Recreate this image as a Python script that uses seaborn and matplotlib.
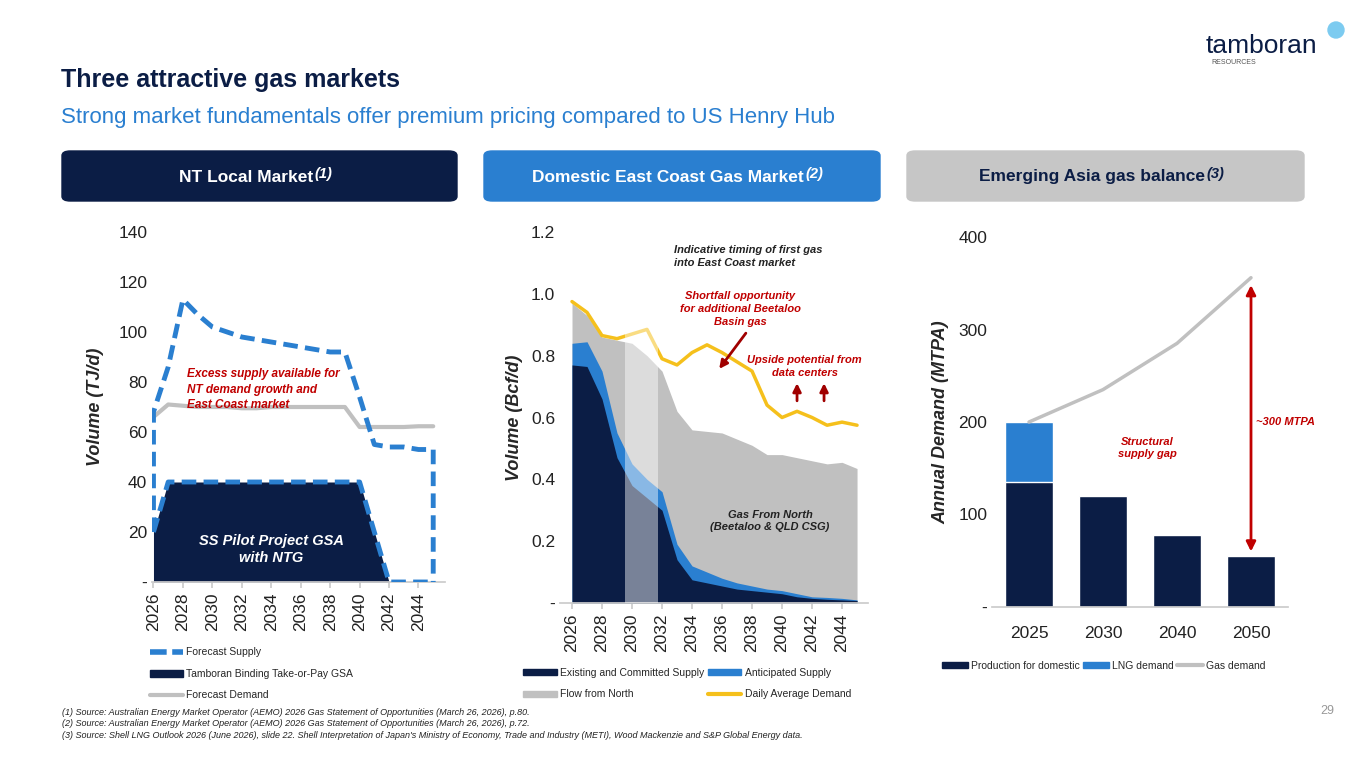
import matplotlib
matplotlib.use("Agg")

import matplotlib.pyplot as plt
import numpy as np
import pandas as pd
import seaborn as sns
from matplotlib.lines import Line2D
from matplotlib.patches import FancyBboxPatch, Patch, Ellipse

NAVY = "#0b1d45"
BLUE = "#2a7fd0"
GREY = "#c0c0c0"
YELLOW = "#f5c01c"
RED = "#c00000"

# NT local market (TJ/d)
nt_years = list(range(2026, 2046))
nt_supply = [68, 86, 113, 107, 102, 100, 98, 97, 96, 95, 94, 93, 92, 92, 74, 55, 54, 54, 53, 53]
nt_gsa = [20, 40, 40, 40, 40, 40, 40, 40, 40, 40, 40, 40, 40, 40, 40, 20, 0, 0, 0, 0]
nt_demand = [66, 71, 70.5, 70, 70, 70, 69.5, 69.5, 70, 70, 70, 70, 70, 70, 62, 62, 62, 62, 62.3, 62.3]

# Domestic east coast (Bcf/d)
ec_years = list(range(2026, 2046))
ec_existing = [.77, .765, .66, .47, .38, .34, .30, .14, .075, .065, .055, .045, .04, .035, .03, .02, .015, .012, .01, .008]
ec_anticipated = [.84, .845, .75, .55, .45, .40, .36, .19, .12, .10, .08, .065, .055, .045, .04, .03, .02, .018, .015, .01]
ec_north = [.97, .93, .86, .85, .84, .80, .75, .62, .56, .555, .55, .53, .51, .48, .48, .47, .46, .45, .455, .435]
ec_demand = [.975, .94, .865, .855, .87, .885, .79, .77, .81, .835, .81, .78, .75, .64, .60, .62, .60, .575, .585, .575]

# Emerging Asia (MTPA)
asia_years = ["2025", "2030", "2040", "2050"]
asia_production = [135, 120, 78, 55]
asia_lng = [65, 0, 0, 0]
asia_gas_demand = [200, 235, 285, 356]

sns.set_theme(style="white")
plt.rcParams["font.family"] = ["Liberation Sans", "DejaVu Sans"]

W, H = 1365, 768
fig = plt.figure(figsize=(W / 100, H / 100), dpi=100)


def px_axes(x0, y0, x1, y1):
    return fig.add_axes([x0 / W, 1 - y1 / H, (x1 - x0) / W, (y1 - y0) / H])


# titles
fig.text(61 / W, 1 - 80 / H, "Three attractive gas markets", fontsize=18, fontweight="bold",
         color=NAVY, va="center")
fig.text(61 / W, 1 - 118 / H, "Strong market fundamentals offer premium pricing compared to US Henry Hub",
         fontsize=16, color=BLUE, va="center")

# logo
fig.text(1206 / W, 1 - 46 / H, "tamboran", fontsize=19, color=NAVY, va="center")
fig.text(1211 / W, 1 - 62 / H, "RESOURCES", fontsize=5, color="#555555", va="center")
fig.patches.append(Ellipse((1336 / W, 1 - 30 / H), 16 / W, 16 / H, transform=fig.transFigure,
                           color="#7ccbf0", zorder=5))

# headers
headers = [(62, 457, NAVY, "NT Local Market", "(1)"),
           (484, 880, BLUE, "Domestic East Coast Gas Market", "(2)"),
           (907, 1304, "#c6c6c6", "Emerging Asia gas balance", "(3)")]
fig.canvas.draw()
renderer = fig.canvas.get_renderer()
for x0, x1, col, txt, sup in headers:
    fig.patches.append(FancyBboxPatch((x0 / W, 1 - 201 / H), (x1 - x0) / W, 50 / H,
                                      boxstyle="round,pad=0,rounding_size=0.006",
                                      transform=fig.transFigure, color=col))
    txtcol = "white" if col != "#c6c6c6" else NAVY
    t = fig.text((x0 + x1) / 2 / W - 0.01, 1 - 177 / H, txt, fontsize=12.5, fontweight="bold",
                 color=txtcol, ha="center", va="center")
    bb = t.get_window_extent(renderer)
    fig.text(bb.x1 / W + 0.001, 1 - 174 / H, sup, fontsize=10.5,
             fontweight="bold", style="italic", color=txtcol, ha="left", va="center")

note_kw = dict(fontweight="bold", style="italic", linespacing=1.35)

# ---------- left chart ----------
ax1 = px_axes(152, 232, 445, 582)
ax1.fill_between(nt_years, nt_gsa, color=NAVY, lw=0, zorder=1)
sns.lineplot(x=nt_years, y=nt_demand, color=GREY, lw=3, ax=ax1, zorder=2)
sup_x = [nt_years[0]] + nt_years + [nt_years[-1]]
sup_y = [nt_gsa[0]] + nt_supply + [0]
ax1.plot(sup_x, sup_y, color=BLUE, lw=3.5, ls=(0, (3, 1.5)), zorder=3)
gsa_x = nt_years + [nt_years[-1]]
gsa_y = nt_gsa + [0]
ax1.plot(gsa_x, gsa_y, color=BLUE, lw=3.5, ls=(0, (3, 1.5)), zorder=3)
ax1.set_xlim(2025.9, 2045.8)
ax1.set_ylim(0, 140)
ax1.set_yticks(range(0, 141, 20))
ax1.set_yticklabels(["-"] + [str(v) for v in range(20, 141, 20)], fontsize=12.5)
ax1.set_xticks(range(2026, 2045, 2))
ax1.set_xticklabels([str(y) for y in range(2026, 2045, 2)], rotation=90, fontsize=12.5)
ax1.set_ylabel("Volume (TJ/d)", fontsize=13, fontweight="bold", style="italic", labelpad=10)
ax1.text(2028.3, 77, "Excess supply available for\nNT demand growth and\nEast Coast market",
         fontsize=8.5, color=RED, va="center", **note_kw)
ax1.text(2034, 13, "SS Pilot Project GSA\nwith NTG", fontsize=10.5, color="white",
         ha="center", va="center", **note_kw)
h1 = [Line2D([], [], color=BLUE, lw=4, ls=(0, (3, 1))),
      Patch(color=NAVY), Line2D([], [], color=GREY, lw=3)]
ax1.legend(h1, ["Forecast Supply", "Tamboran Binding Take-or-Pay GSA", "Forecast Demand"],
           loc="upper left", bbox_to_anchor=(-0.04, -0.16), frameon=False, fontsize=7.5,
           handlelength=3.2, handletextpad=0.3, labelspacing=1.1)

# ---------- middle chart ----------
ax2 = px_axes(560, 232, 868, 603)
ax2.fill_between(ec_years, ec_north, color=GREY, lw=0)
ax2.fill_between(ec_years, ec_anticipated, color=BLUE, lw=0)
ax2.fill_between(ec_years, ec_existing, color=NAVY, lw=0)
sns.lineplot(x=ec_years, y=ec_demand, color=YELLOW, lw=2.5, ax=ax2, zorder=3)
ax2.axvspan(2029.5, 2031.7, color="white", alpha=0.45, lw=0, zorder=4)
ax2.set_xlim(2025.2, 2045.73)
ax2.set_ylim(0, 1.2)
ax2.set_yticks(np.arange(0, 1.21, 0.2))
ax2.set_yticklabels(["-", "0.2", "0.4", "0.6", "0.8", "1.0", "1.2"], fontsize=12.5)
ax2.set_xticks(range(2026, 2045, 2))
ax2.set_xticklabels([str(y) for y in range(2026, 2045, 2)], rotation=90, fontsize=12.5)
ax2.set_ylabel("Volume (Bcf/d)", fontsize=13, fontweight="bold", style="italic", labelpad=6)
ax2.text(2032.8, 1.12, "Indicative timing of first gas\ninto East Coast market", fontsize=8,
         color="#222222", va="center", **note_kw)
ax2.text(2037.2, 0.95, "Shortfall opportunity\nfor additional Beetaloo\nBasin gas", fontsize=8,
         color=RED, ha="center", va="center", **note_kw)
ax2.annotate("", xy=(2035.7, 0.75), xytext=(2037.7, 0.88),
             arrowprops=dict(arrowstyle="-|>", color="#a00000", lw=2))
ax2.text(2041.5, 0.765, "Upside potential from\ndata centers", fontsize=8,
         color=RED, ha="center", va="center", **note_kw)
for xa in (2041, 2042.8):
    ax2.annotate("", xy=(xa, 0.72), xytext=(xa, 0.645),
                 arrowprops=dict(arrowstyle="-|>", color="#a00000", lw=2))
ax2.text(2039.2, 0.265, "Gas From North\n(Beetaloo & QLD CSG)", fontsize=8,
         color="#222222", ha="center", va="center", **note_kw)
h2 = [Patch(color=NAVY), Patch(color=GREY), Patch(color=BLUE), Line2D([], [], color=YELLOW, lw=3)]
ax2.legend(h2, ["Existing and Committed Supply", "Flow from North", "Anticipated Supply",
                "Daily Average Demand"], loc="upper left", bbox_to_anchor=(-0.15, -0.15),
           frameon=False, fontsize=7.5, ncol=2, handlelength=3.2, handleheight=0.5,
           handletextpad=0.3, labelspacing=1.1, columnspacing=0.4)

# ---------- right chart ----------
ax3 = px_axes(992, 237, 1288, 607)
asia = pd.DataFrame({"year": asia_years, "prod": asia_production,
                     "total": np.add(asia_production, asia_lng)})
sns.barplot(data=asia, x="year", y="total", color=BLUE, saturation=1, width=0.66, ax=ax3)
sns.barplot(data=asia, x="year", y="prod", color=NAVY, saturation=1, width=0.66, ax=ax3)
ax3.plot(range(len(asia_years)), asia_gas_demand, color=GREY, lw=2.5)
ax3.annotate("", xy=(3, asia_production[-1] + 2), xytext=(3, asia_gas_demand[-1] - 5),
             arrowprops=dict(arrowstyle="<|-|>", color=RED, lw=2, mutation_scale=14))
ax3.text(3.07, 200, "~300 MTPA", fontsize=8, color=RED, va="center", **note_kw)
ax3.text(1.6, 172, "Structural\nsupply gap", fontsize=8, color=RED, ha="center",
         va="center", **note_kw)
ax3.set_xlim(-0.5, 3.5)
ax3.set_ylim(0, 400)
ax3.set_yticks(range(0, 401, 100))
ax3.set_yticklabels(["-", "100", "200", "300", "400"], fontsize=12.5)
ax3.tick_params(axis="x", labelsize=12.5, pad=8)
ax3.set_xlabel("")
ax3.set_ylabel("Annual Demand (MTPA)", fontsize=13, fontweight="bold", style="italic", labelpad=6)
h3 = [Patch(color=NAVY), Patch(color=BLUE), Line2D([], [], color=GREY, lw=3)]
ax3.legend(h3, ["Production for domestic", "LNG demand", "Gas demand"], loc="upper left",
           bbox_to_anchor=(-0.2, -0.12), frameon=False, fontsize=7.5, ncol=3,
           handlelength=2.5, handleheight=0.5, handletextpad=0.3, columnspacing=0.3)

for ax in (ax1, ax2, ax3):
    sns.despine(ax=ax, left=True)
    ax.spines["bottom"].set_color("#cccccc")
    ax.tick_params(axis="y", length=0, colors="#222222")
    ax.tick_params(axis="x", colors="#222222")
    ax.grid(False)
for ax in (ax1, ax2):
    ax.tick_params(axis="x", length=4, color="#cccccc", direction="out", bottom=True)

# footnotes
notes = ("(1) Source: Australian Energy Market Operator (AEMO) 2026 Gas Statement of Opportunities (March 26, 2026), p.80.\n"
         "(2) Source: Australian Energy Market Operator (AEMO) 2026 Gas Statement of Opportunities (March 26, 2026), p.72.\n"
         "(3) Source: Shell LNG Outlook 2026 (June 2026), slide 22. Shell Interpretation of Japan's Ministry of Economy, "
         "Trade and Industry (METI), Wood Mackenzie and S&P Global Energy data.")
fig.text(62 / W, 1 - 724 / H, notes, fontsize=6.5, style="italic", color="#222222", va="center",
         linespacing=1.3)
fig.text(1334 / W, 1 - 711 / H, "29", fontsize=9, color="#999999", ha="right", va="center")

fig.savefig("out.png", dpi=100)
